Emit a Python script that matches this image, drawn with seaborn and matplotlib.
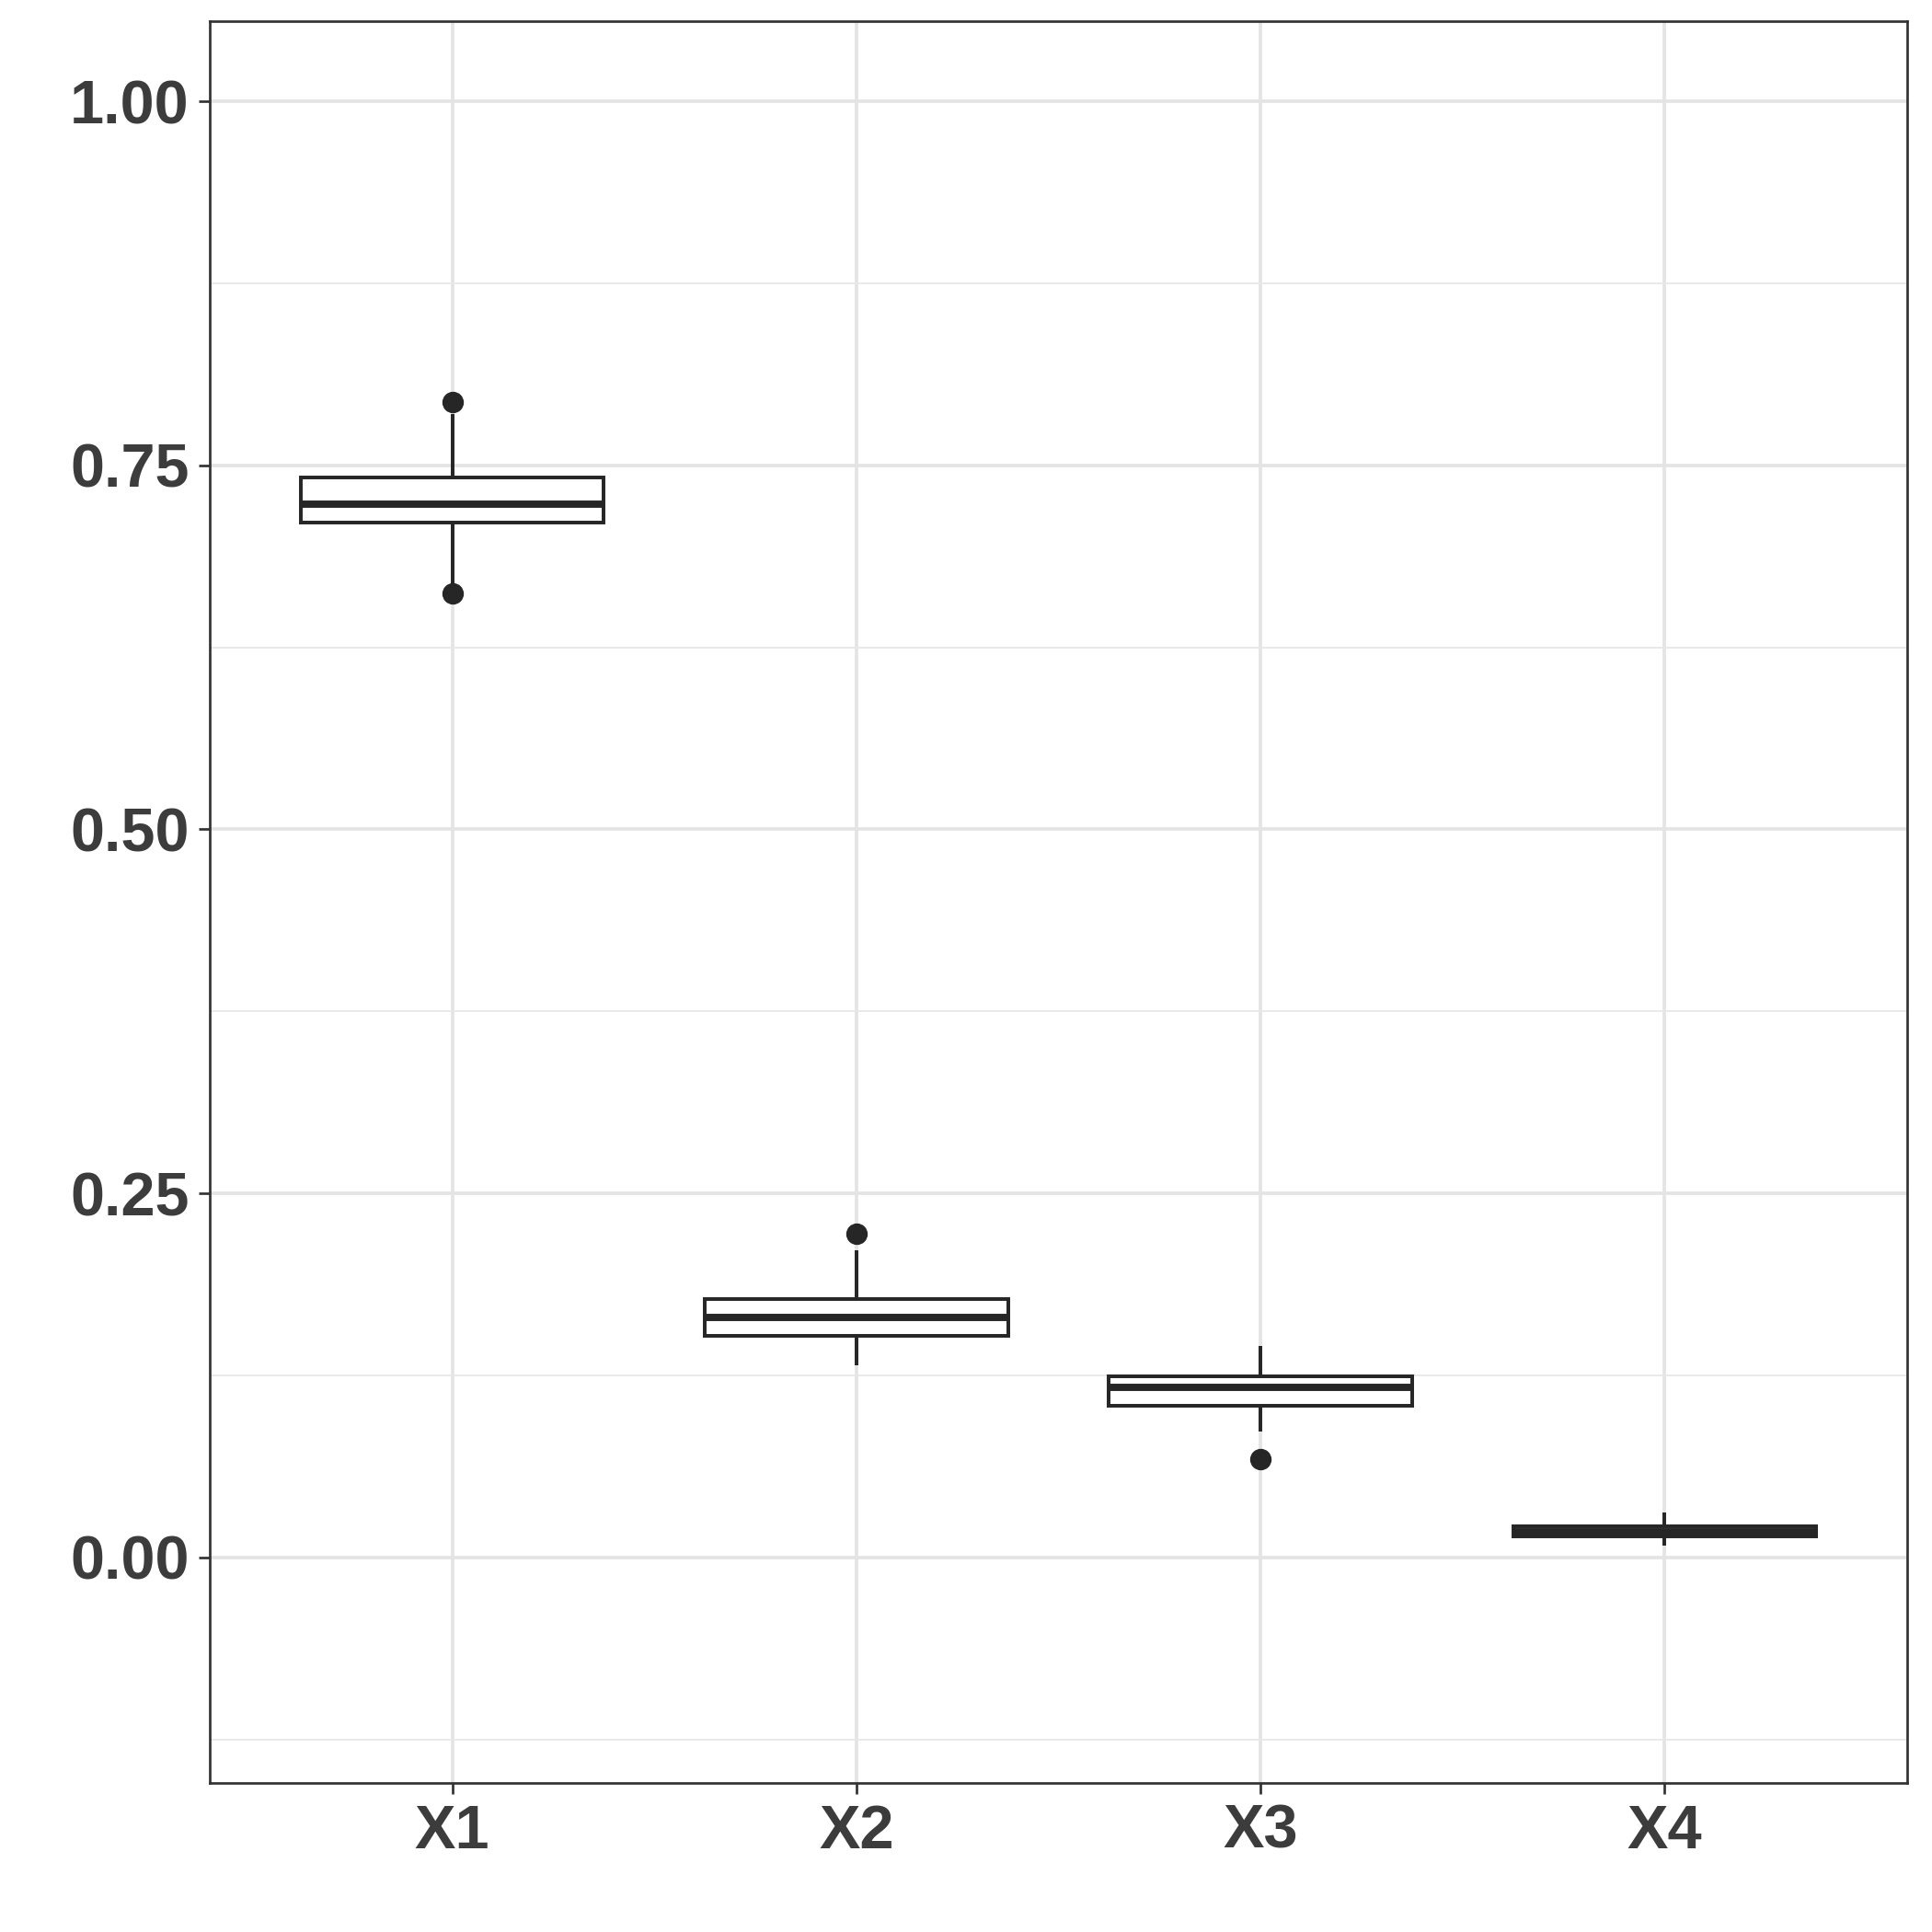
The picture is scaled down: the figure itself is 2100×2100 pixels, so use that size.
import numpy as np
import pandas as pd
import matplotlib
matplotlib.use("Agg")
import matplotlib.pyplot as plt
import seaborn as sns
from matplotlib.ticker import FixedLocator

# Data
categories = ["X1", "X2", "X3", "X4"]
x1_values = [0.662, 0.668, 0.7105, 0.718, 0.7235, 0.730, 0.7415, 0.785, 0.7933]
x2_values = [0.1319, 0.145, 0.1519, 0.158, 0.1649, 0.170, 0.1771, 0.2112, 0.2223]
x3_values = [0.0675, 0.0862, 0.1043, 0.110, 0.1167, 0.120, 0.1245, 0.135, 0.1449]
x4_values = [0.0078, 0.012, 0.0142, 0.016, 0.0176, 0.019, 0.0215, 0.026, 0.031]
y_ticks = [0.00, 0.25, 0.50, 0.75, 1.00]
y_tick_labels = ["0.00", "0.25", "0.50", "0.75", "1.00"]
y_minor = [-0.125, 0.125, 0.375, 0.625, 0.875]

df = pd.DataFrame({
    "variable": np.repeat(categories, [len(x1_values), len(x2_values), len(x3_values), len(x4_values)]),
    "value": x1_values + x2_values + x3_values + x4_values,
})

sns.set_theme(style="white")
plt.rcParams["font.family"] = ["Liberation Sans", "DejaVu Sans"]

fig = plt.figure(figsize=(7, 7), dpi=300)
ax = fig.add_axes([0.1086, 0.0771, 0.8785, 0.9119])

line_c = "#262626"
sns.boxplot(
    data=df, x="variable", y="value", order=categories,
    width=0.75, color="white", saturation=1, linecolor=line_c, linewidth=0.95,
    showcaps=False, whis=1.5, fliersize=4.6,
    flierprops=dict(marker="o", markerfacecolor=line_c, markeredgecolor=line_c),
    medianprops=dict(linewidth=1.9, color=line_c),
    ax=ax,
)

ax.set_xlim(-0.6, 3.6)
ax.set_ylim(-0.155, 1.055)
ax.set_yticks(y_ticks)
ax.set_yticklabels(y_tick_labels)
ax.yaxis.set_minor_locator(FixedLocator(y_minor))
ax.set_axisbelow(True)
ax.grid(which="major", axis="both", color="#E4E4E4", linewidth=0.9, zorder=0)
ax.grid(which="minor", axis="y", color="#E8E8E8", linewidth=0.45, zorder=0)
ax.set_xlabel("")
ax.set_ylabel("")

for s in ax.spines.values():
    s.set_visible(True)
    s.set_color("#333333")
    s.set_linewidth(0.65)

ax.tick_params(axis="both", which="major", length=2.9, width=0.65, color="#333333",
               labelsize=16, labelcolor="#3C3C3C", pad=2.5, left=True, bottom=True)
ax.tick_params(axis="y", which="minor", length=0, left=False)
for lab in ax.get_xticklabels() + ax.get_yticklabels():
    lab.set_fontweight("bold")

fig.savefig("out.png", dpi=300, facecolor="white")
